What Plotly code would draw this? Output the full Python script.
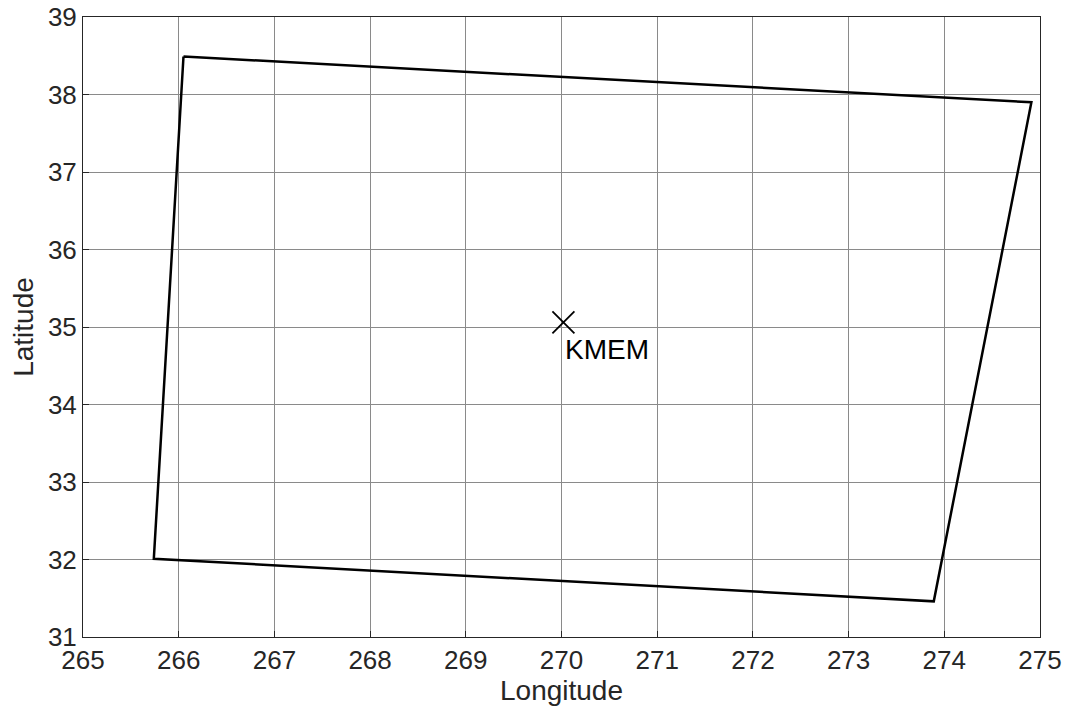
import plotly.graph_objects as go

# Domain boundary corners (longitude, latitude), closed polygon
boundary_lon = [266.05, 274.91, 273.89, 265.74, 266.05]
boundary_lat = [38.49, 37.90, 31.46, 32.01, 38.49]

# Station
station_lon = [270.02]
station_lat = [35.06]
station_name = ["KMEM"]

x_ticks = list(range(265, 276))
y_ticks = list(range(31, 40))

FONT = "Liberation Sans, Arial, Helvetica"

fig = go.Figure()
fig.add_trace(go.Scatter(
    x=boundary_lon, y=boundary_lat, mode="lines",
    line=dict(color="black", width=2.5), showlegend=False, hoverinfo="skip"))
fig.add_trace(go.Scatter(
    x=station_lon, y=station_lat, mode="markers",
    marker=dict(symbol="x-thin", size=22, line=dict(color="black", width=1.8)),
    showlegend=False))
fig.add_annotation(x=station_lon[0], y=station_lat[0], text=station_name[0],
                   showarrow=False, xanchor="left", yanchor="top",
                   xshift=0, yshift=-10,
                   font=dict(family=FONT, size=28, color="black"))

axis_common = dict(showgrid=True, gridcolor="#8a8a8a", gridwidth=1,
                   showline=True, linecolor="#262626", linewidth=1, mirror=True,
                   ticks="inside", ticklen=6, tickcolor="#262626",
                   zeroline=False, automargin=False, ticklabeloverflow="allow",
                   tickfont=dict(family=FONT, size=26, color="#262626"),
                   title_font=dict(family=FONT, size=28, color="#262626"))

fig.update_xaxes(range=[265, 275], tickvals=x_ticks, title_text="Longitude",
                 title_standoff=0, **axis_common)
fig.update_yaxes(range=[31, 39], tickvals=y_ticks, title_text="Latitude",
                 title_standoff=6, **axis_common)

fig.update_layout(width=1068, height=708,
                  margin=dict(l=83, r=28, t=17, b=71),
                  plot_bgcolor="white", paper_bgcolor="white")

# remove the default 8px page margin so the figure fills the window exactly
fig.write_html("out.html", config={"displayModeBar": False},
               post_script="document.body.style.margin='0px';document.body.style.overflow='hidden';")
